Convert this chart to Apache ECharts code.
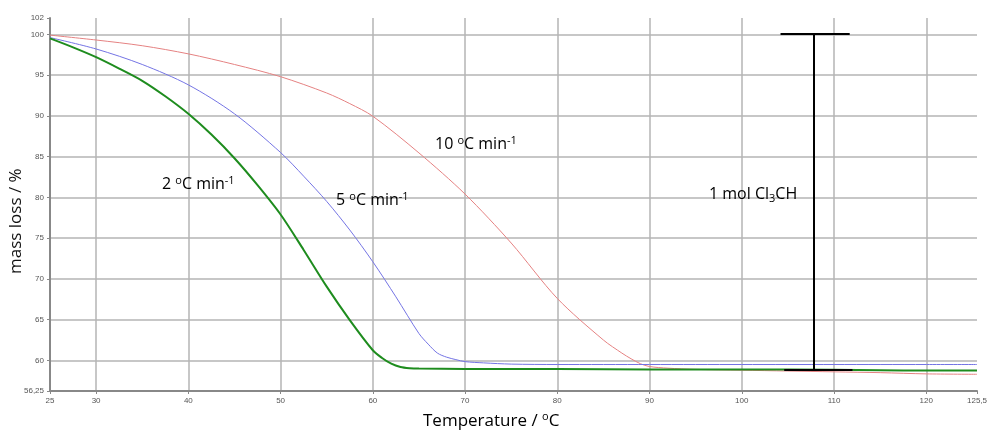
<!DOCTYPE html>
<html>
<head>
<meta charset="utf-8">
<script src="https://cdn.jsdelivr.net/npm/echarts@6/dist/echarts.min.js"></script>
<style>
  html, body { margin: 0; padding: 0; background: #fff; }
  #main { width: 990px; height: 430px; }
</style>
</head>
<body>
<div id="main"></div>
<script>
// tick labels
var xTicks = [25, 30, 40, 50, 60, 70, 80, 90, 100, 110, 120, 125.5];
var yTicks = [56.25, 60, 65, 70, 75, 80, 85, 90, 95, 100, 102];

// 2 oC/min
var greenT = [25, 27.5, 30, 32.5, 35, 37.5, 40, 42.5, 45, 47.5, 50, 52.5, 55, 57.5, 60, 61, 62, 63, 64, 65, 70, 80, 90, 100, 110, 115, 120, 125.5];
var greenV = [99.5, 98.4, 97.2, 95.8, 94.3, 92.4, 90.25, 87.7, 84.8, 81.5, 77.9, 73.55, 69.05, 64.95, 61.25, 60.3, 59.6, 59.2, 59.05, 59.0, 58.95, 58.95, 58.9, 58.9, 58.85, 58.8, 58.75, 58.75];

// 5 oC/min
var blueT = [25, 30, 35, 40, 45, 50, 52.5, 55, 57.5, 60, 62.5, 65, 66, 67, 68, 69, 70, 72, 75, 80, 90, 100, 110, 120, 125.5];
var blueV = [99.6, 98.2, 96.3, 93.8, 90.25, 85.5, 82.6, 79.5, 76.0, 72.1, 67.8, 63.3, 62.0, 60.9, 60.4, 60.1, 59.85, 59.7, 59.55, 59.5, 59.5, 59.5, 59.5, 59.5, 59.5];

// 10 oC/min
var redT = [25, 30, 35, 40, 45, 50, 55, 57.5, 60, 65, 70, 75, 80, 85, 87, 88, 89, 90, 92, 95, 100, 105, 110, 115, 120, 125.5];
var redV = [99.9, 99.3, 98.6, 97.6, 96.3, 94.8, 92.8, 91.5, 89.95, 85.45, 80.4, 74.4, 67.6, 62.5, 60.9, 60.2, 59.6, 59.25, 59.05, 58.9, 58.8, 58.7, 58.6, 58.5, 58.35, 58.3];

// 1 mol Cl3CH bracket
var barT = 107.8;
var barTop = 100.1;
var barBottom = 58.8;
var topSpan = [104.2, 111.7];
var bottomSpan = [104.6, 112];

function pairs(t, v) {
  return t.map(function (x, i) { return [x, v[i]]; });
}
function comma(v) { return String(v).replace('.', ','); }

var chart = echarts.init(document.getElementById('main'));

var sup = { fontSize: 11, verticalAlign: 'top', lineHeight: 19, fontFamily: 'Open Sans', color: '#111' };
var sub = { fontSize: 11, verticalAlign: 'bottom', lineHeight: 19, fontFamily: 'Open Sans', color: '#111' };
var big = { fontSize: 16, lineHeight: 19, fontFamily: 'Open Sans', color: '#111' };

function lineSeries(name, data, color, width) {
  return {
    name: name,
    type: 'line',
    data: data,
    showSymbol: false,
    smooth: 0.3,
    lineStyle: { color: color, width: width },
    z: width > 1.5 ? 3 : 2
  };
}

chart.setOption({
  animation: false,
  grid: { left: 50, right: 8, top: 18, bottom: 39 },
  xAxis: {
    type: 'value', min: 25, max: 125.5,
    axisLine: { lineStyle: { color: '#888', width: 2 } },
    axisTick: { show: true, length: 3, lineStyle: { color: '#888' }, customValues: xTicks },
    axisLabel: { customValues: xTicks, formatter: comma, fontSize: 8, color: '#555', fontFamily: 'Arial', margin: 6 },
    splitLine: { show: true, showMinLine: false, showMaxLine: false, lineStyle: { color: '#b4b4b4', width: 1.5 } }
  },
  yAxis: {
    type: 'value', min: 56.25, max: 102,
    axisLine: { show: true, lineStyle: { color: '#888', width: 2 } },
    axisTick: { show: true, length: 3, lineStyle: { color: '#888' }, customValues: yTicks },
    axisLabel: { customValues: yTicks, formatter: comma, fontSize: 8, color: '#555', fontFamily: 'Arial', margin: 6 },
    splitLine: { show: true, showMinLine: false, showMaxLine: false, lineStyle: { color: '#b4b4b4', width: 1.5 } }
  },
  series: [
    lineSeries('10', pairs(redT, redV), '#e58282', 1),
    lineSeries('5', pairs(blueT, blueV), '#7474e4', 1),
    lineSeries('2', pairs(greenT, greenV), '#1e8c1e', 2),
    {
      type: 'line', data: [], silent: true,
      markLine: {
        symbol: 'none', silent: true, animation: false,
        label: { show: false },
        lineStyle: { color: '#000', width: 2, type: 'solid' },
        data: [
          [{ coord: [topSpan[0], barTop] }, { coord: [topSpan[1], barTop] }],
          [{ coord: [barT, barTop] }, { coord: [barT, barBottom] }],
          [{ coord: [bottomSpan[0], barBottom] }, { coord: [bottomSpan[1], barBottom] }]
        ]
      }
    }
  ],
  graphic: [
    { type: 'text', x: 162, y: 175, z: 10, style: { text: '{b|2 }{s|o}{b|C min}{s|-1}', rich: { b: big, s: sup } } },
    { type: 'text', x: 336, y: 191, z: 10, style: { text: '{b|5 }{s|o}{b|C min}{s|-1}', rich: { b: big, s: sup } } },
    { type: 'text', x: 435, y: 135, z: 10, style: { text: '{b|10 }{s|o}{b|C min}{s|-1}', rich: { b: big, s: sup } } },
    { type: 'text', x: 709, y: 185, z: 10, style: { text: '{b|1 mol Cl}{d|3}{b|CH}', rich: { b: big, d: sub } } },
    { type: 'text', x: 423, y: 411, z: 10, style: { text: '{b|Temperature / }{s|o}{b|C}',
        rich: { b: { fontSize: 17, lineHeight: 20, fontFamily: 'Open Sans', color: '#111' }, s: { fontSize: 11, lineHeight: 20, verticalAlign: 'top', fontFamily: 'Open Sans', color: '#111' } } } },
    { type: 'text', x: 8, y: 274, rotation: Math.PI / 2, z: 10,
      style: { text: 'mass loss / %', font: '17px "Open Sans"', fill: '#111' } }
  ]
});
</script>
</body>
</html>
